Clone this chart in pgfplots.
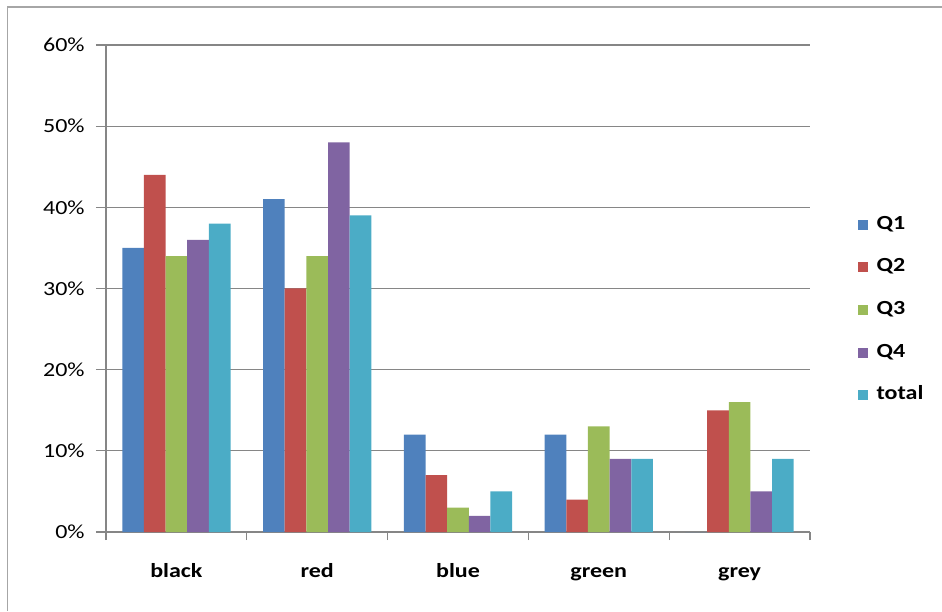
\documentclass[border=0pt]{standalone}
\usepackage{pgfplots}
\pgfplotsset{compat=1.18}
\usepackage{fontspec}
\setmainfont{Carlito}[FakeStretch=1.2]
\definecolor{cQ1}{HTML}{4F81BD}
\definecolor{cQ2}{HTML}{C0504D}
\definecolor{cQ3}{HTML}{9BBB59}
\definecolor{cQ4}{HTML}{8064A2}
\definecolor{cT}{HTML}{4BACC6}
\definecolor{gridc}{HTML}{868686}
\definecolor{framec}{HTML}{A6A6A6}
\begin{document}
\begin{tikzpicture}
\path[use as bounding box] (0,0) rectangle (706.5pt,458.25pt);
\draw[framec, line width=1.1pt] (5.5pt,0) -- (5.5pt,453pt) -- (706.5pt,453pt);
\begin{axis}[
  at={(79.5pt,59.25pt)}, anchor=south west,
  scale only axis, width=528pt, height=365.25pt,
  ybar=0pt, bar width=0.1538,
  xmin=-0.5, xmax=4.5, ymin=0, ymax=60,
  axis x line*=bottom, axis y line*=left,
  axis line style={gridc, line width=0.8pt},
  xtick={0,1,2,3,4},
  xticklabels={black,red,blue,green,grey},
  minor xtick={-0.5,0.5,1.5,2.5,3.5,4.5},
  ytick={0,10,20,30,40,50,60},
  yticklabels={0\%,10\%,20\%,30\%,40\%,50\%,60\%},
  ymajorgrids, grid style={gridc, line width=0.8pt},
  tick align=outside, major tick length=7.5pt, minor tick length=6pt,
  major x tick style={draw=none},
  minor x tick style={gridc, line width=0.8pt},
  y tick style={gridc, line width=0.8pt},
  xticklabel style={font=\fontsize{15}{17}\selectfont\bfseries, text height=11pt, text depth=3.5pt, yshift=-12pt},
  yticklabel style={font=\fontsize{15}{17}\selectfont, xshift=-5pt},
  legend style={draw=none, at={(1.062,0.456)}, anchor=west,
    font=\fontsize{15}{17}\selectfont\bfseries,
    row sep=18pt, nodes={inner sep=0.5pt, text height=10pt, text depth=3pt}},
  legend cell align=left,
  legend image code/.code={\fill[#1] (0pt,-3.75pt) rectangle (7.5pt,3.75pt);},
  /pgfplots/every legend/.append style={column sep=0pt},
]
\addplot[fill=cQ1, draw=none] coordinates {(0,35) (1,41) (2,12) (3,12) (4,0)};
\addlegendentry{\hspace{6pt}Q1}
\addplot[fill=cQ2, draw=none] coordinates {(0,44) (1,30) (2,7) (3,4) (4,15)};
\addlegendentry{\hspace{6pt}Q2}
\addplot[fill=cQ3, draw=none] coordinates {(0,34) (1,34) (2,3) (3,13) (4,16)};
\addlegendentry{\hspace{6pt}Q3}
\addplot[fill=cQ4, draw=none] coordinates {(0,36) (1,48) (2,2) (3,9) (4,5)};
\addlegendentry{\hspace{6pt}Q4}
\addplot[fill=cT, draw=none] coordinates {(0,38) (1,39) (2,5) (3,9) (4,9)};
\addlegendentry{\hspace{6pt}total}
\end{axis}
\end{tikzpicture}
\end{document}
